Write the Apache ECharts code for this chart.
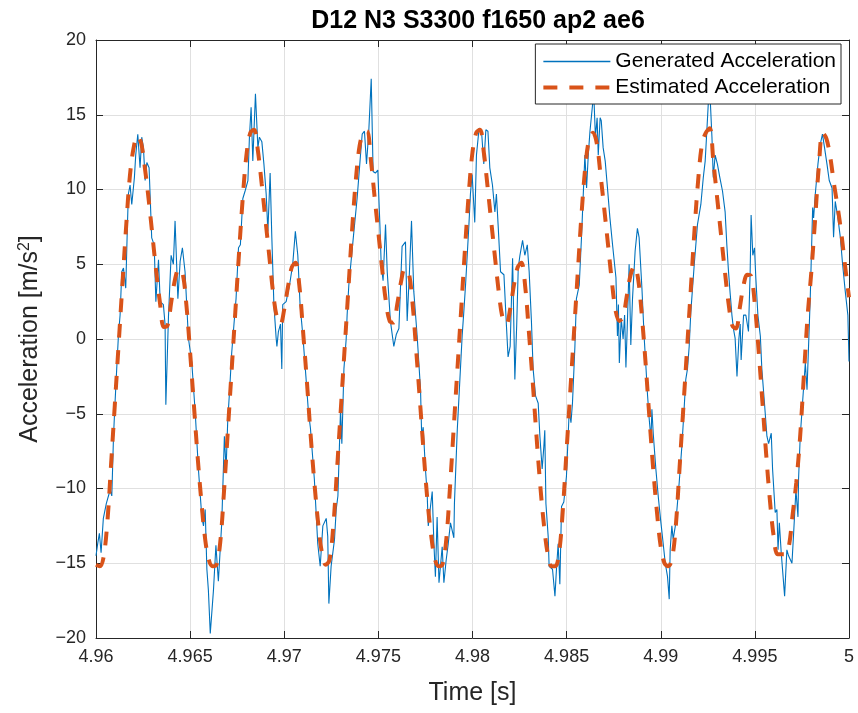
<!DOCTYPE html>
<html>
<head>
<meta charset="utf-8">
<script src="https://cdn.jsdelivr.net/npm/echarts@6/dist/echarts.min.js"></script>
<style>
html,body{margin:0;padding:0;background:#fff;}
#c{width:858px;height:713px;}
</style>
</head>
<body>
<div id="c"></div>
<script>
// ---- data ----
const titleText = 'D12 N3 S3300 f1650 ap2 ae6';
const seriesNames = ['Generated Acceleration', 'Estimated Acceleration'];
const startTime = 4.96;           // s
const xTicks = [4.96, 4.965, 4.97, 4.975, 4.98, 4.985, 4.99, 4.995, 5];
const yTicks = [-20, -15, -10, -5, 0, 5, 10, 15, 20];

// Generated acceleration: vertices (time offset in ms from 4.96 s, value m/s^2)
const genTimeMs = [
0.00,0.10,0.18,0.27,0.39,0.55,0.75,0.84,0.93,1.01,1.10,1.19,1.28,1.37,1.46,1.58,1.67,1.72,1.81,1.90,
2.04,2.11,2.22,2.34,2.43,2.52,2.61,2.70,2.82,2.96,3.09,3.18,3.32,3.41,3.58,3.67,3.71,3.85,3.99,4.11,
4.20,4.35,4.47,4.59,4.73,4.91,5.09,5.27,5.44,5.62,5.71,5.80,5.89,5.97,6.07,6.24,6.37,6.50,6.68,6.82,
6.91,7.00,7.09,7.21,7.33,7.44,7.57,7.67,7.80,7.92,8.07,8.15,8.24,8.33,8.47,8.60,8.68,8.81,8.92,9.04,
9.13,9.25,9.34,9.45,9.57,9.61,9.69,9.80,9.87,9.92,10.10,10.28,10.45,10.59,10.72,10.84,10.99,11.15,11.28,11.39,
11.60,11.78,11.91,12.05,12.23,12.31,12.37,12.49,12.67,12.76,12.85,12.99,13.06,13.17,13.29,13.34,13.43,13.70,13.87,14.05,
14.14,14.26,14.37,14.49,14.62,14.72,14.84,14.97,15.08,15.15,15.25,15.38,15.47,15.64,15.82,15.95,16.09,16.26,16.44,16.53,
16.65,16.76,16.88,17.06,17.24,17.30,17.38,17.50,17.59,17.65,17.73,17.86,17.95,18.03,18.12,18.22,18.39,18.48,18.60,18.71,
18.83,19.01,19.04,19.19,19.33,19.45,19.54,19.63,19.72,19.81,19.89,19.98,20.12,20.21,20.35,20.48,20.60,20.71,20.82,20.92,
21.06,21.19,21.27,21.36,21.49,21.67,21.80,21.89,22.00,22.13,22.25,22.35,22.43,22.52,22.66,22.78,22.91,23.01,23.13,23.22,
23.35,23.49,23.58,23.70,23.79,23.84,23.90,24.02,24.07,24.25,24.38,24.46,24.55,24.64,24.73,24.85,24.99,25.14,25.23,25.31,
25.44,25.52,25.67,25.79,25.97,26.06,26.15,26.24,26.38,26.45,26.53,26.62,26.68,26.78,26.84,26.94,27.05,27.17,27.30,27.44,
27.62,27.70,27.75,27.80,27.90,28.00,28.08,28.15,28.22,28.32,28.41,28.50,28.64,28.76,28.85,29.00,29.12,29.21,29.30,29.39,
29.48,29.53,29.60,29.74,29.88,30.01,30.13,30.24,30.36,30.45,30.50,30.59,30.66,30.80,30.98,31.12,31.24,31.33,31.42,31.51,
31.60,31.78,31.95,32.13,32.26,32.36,32.43,32.54,32.60,32.72,32.79,32.89,33.01,33.14,33.28,33.42,33.51,33.60,33.69,33.78,
33.86,33.95,34.05,34.15,34.22,34.27,34.40,34.52,34.66,34.75,34.80,34.89,34.98,35.05,35.16,35.29,35.37,35.51,35.64,35.73,
35.87,35.94,36.08,36.17,36.23,36.30,36.40,36.58,36.70,36.79,36.97,37.05,37.18,37.29,37.32,37.41,37.53,37.68,37.77,37.94,
38.07,38.12,38.21,38.35,38.47,38.59,38.70,38.83,38.95,39.10,39.18,39.27,39.41,39.54,39.66,39.80,39.94,40.00
];
const genValues = [
-14.5,-13.6,-13.0,-14.3,-12.0,-11.0,-10.1,-10.5,-6.5,-4.3,-2.0,0.2,1.6,4.5,4.75,3.4,7.65,9.7,10.3,9.0,
10.8,12.3,13.7,11.45,13.5,12.8,10.6,11.8,11.45,6.76,6.3,2.5,5.3,2.5,2.3,0.95,-4.4,1.5,5.6,5.0,
7.9,2.7,5.2,6.1,4.5,0.05,-1.6,-4.9,-8.7,-11.9,-12.5,-11.4,-15.4,-16.8,-19.7,-16.8,-13.8,-16.2,-12.3,-6.5,
-8.7,-5.4,-3.6,-0.9,1.0,2.7,6.1,6.3,9.4,9.9,10.6,13.5,15.5,11.9,16.4,12.8,13.5,13.2,11.7,9.7,
7.2,11.1,6.8,2.3,0.06,-0.5,0.5,1.0,-2.0,2.3,2.5,3.6,5.0,7.2,5.6,2.3,0.2,-2.5,-4.8,-5.95,
-9.4,-13.7,-15.2,-12.5,-12.0,-13.2,-17.7,-15.2,-13.4,-11.4,-10.5,-4.7,-7.0,-2.0,0.0,1.6,3.6,7.2,9.4,12.3,
13.7,13.9,11.7,13.9,17.4,11.2,11.1,11.3,7.65,5.0,3.9,7.65,4.5,1.2,-0.5,0.3,0.7,6.2,6.5,1.2,
4.5,7.9,3.2,0.2,-3.4,-6.5,-5.9,-8.7,-10.3,-12.5,-12.5,-10.2,-13.7,-15.9,-11.9,-16.3,-13.9,-16.3,-14.8,-13.7,
-12.3,-13.3,-11.0,-6.1,-2.7,0.2,1.85,3.6,5.6,7.65,9.7,11.0,7.8,12.3,14.1,13.9,11.7,14.0,13.9,11.45,
10.3,8.5,9.7,7.65,4.5,4.3,0.95,-1.2,-0.5,5.4,-2.7,1.0,4.75,5.6,6.6,5.6,6.3,4.5,1.2,-2.0,
-3.8,-4.3,-6.5,-8.7,-7.2,-6.1,-11.0,-13.2,-15.2,-15.4,-17.2,-15.4,-13.7,-16.4,-11.2,-10.9,-9.2,-4.7,-5.6,-4.3,
-0.5,2.7,3.6,6.8,12.3,10.1,12.3,13.9,15.7,16.1,13.5,14.8,12.3,14.8,14.6,12.8,11.9,10.1,8.1,6.3,
4.1,0.2,2.3,-1.6,1.4,0.0,1.6,-1.9,0.8,5.0,-0.4,2.7,5.9,7.4,6.8,3.4,0.1,-1.8,-3.8,-5.4,
-6.7,-4.7,-6.3,-8.7,-10.7,-12.3,-13.7,-15.0,-15.9,-17.4,-14.1,-12.5,-13.4,-12.3,-9.6,-7.2,-4.7,-2.7,-2.0,-0.5,
1.85,5.0,7.65,9.0,10.8,11.9,13.5,16.1,16.8,13.5,10.8,12.3,11.7,10.8,9.9,8.5,6.3,4.5,3.0,1.6,
0.7,0.06,-2.5,0.0,1.0,-1.4,1.6,1.6,0.5,4.5,8.3,5.6,6.1,4.1,1.6,0.2,-2.0,-4.3,-6.5,-7.0,
-6.3,-8.7,-11.6,-11.4,-14.1,-12.3,-14.3,-17.2,-14.1,-14.5,-15.0,-13.2,-10.1,-11.9,-9.4,-6.5,-4.3,-1.6,-3.4,2.7,
8.8,8.1,9.7,11.7,13.0,13.7,12.8,11.7,10.6,10.1,6.8,9.2,8.1,6.8,5.0,3.2,1.6,-1.5
];

// Estimated acceleration: values read every 0.2 ms from 4.96 s to 5.00 s
const estStepMs = 0.2;
const estValues = [
-15.1,-15.2,-14.6,-12.3,-8.4,-4.4,-0.4,3.6,7.5,10.9,
12.8,13.6,13.1,11.4,9.3,6.9,4.5,2.4,0.8,0.9,
2.5,4.0,4.7,4.4,2.3,-0.9,-4.4,-7.9,-10.9,-13.4,
-14.8,-15.2,
-15.1,-13.6,-10.2,-6.2,-2.2,1.8,5.8,9.5,12.4,13.8,
14.0,12.6,10.4,8.0,5.6,3.2,1.5,1.0,2.0,3.5,
4.8,5.1,3.6,0.5,-2.8,-6.4,-9.6,-12.3,-14.3,-15.1,
-14.8,-12.6,-8.8,-4.8,-0.8,3.2,7.2,10.6,12.9,13.8,
13.9,12.0,9.5,7.1,4.7,2.5,1.2,1.1,2.3,3.8,
4.7,4.5,2.6,-0.6,-4.0,-7.5,-10.7,-13.1,-14.7,-15.2,
-15.1,-13.5,-10.0,-6.0,-2.0,2.0,6.0,9.7,12.5,13.8,
14.0,12.5,10.2,7.8,5.4,3.1,1.4,1.0,2.0,3.6,
4.8,5.1,3.5,0.4,-2.9,-6.5,-9.8,-12.5,-14.4,-15.2,
-15.2,-14.3,-11.4,-7.4,-3.4,0.6,4.6,8.5,11.6,13.4,
13.8,13.1,11.0,8.7,6.3,3.9,1.9,1.2,1.5,2.9,
4.3,4.9,4.0,1.5,-1.7,-5.3,-8.7,-11.6,-13.9,-15.0,
-15.2,
-14.7,-12.5,-8.6,-4.6,-0.6,3.4,7.4,10.8,13.1,13.8,
14.1,11.8,9.4,7.0,4.6,2.4,0.9,0.7,2.1,3.6,
4.3,4.2,2.3,-0.8,-4.2,-7.7,-10.8,-13.2,-14.4,-14.4,
-14.4,-13.9,-11.8,-9.6,-6.6,-2.5,1.5,4.5,8.0,11.6,
13.8,13.4,12.2,10.4,8.8,7.0,4.8,2.8
];

// ---- build series data ----
const genData = genTimeMs.map((ms, i) => [startTime + ms / 1000, genValues[i]]);
const estData = estValues.map((v, i) => [startTime + i * estStepMs / 1000, v]);

const FONT = 'Liberation Sans, Arial, Helvetica, sans-serif';
const AX = '#262626';
const BLUE = '#0072BD';
const ORANGE = '#D95319';
const DASH = [14, 12];

function minusFmt(v) { return v < 0 ? '\u2212' + Math.abs(v) : String(v); }
function xFmt(v) {
  return v.toFixed(3).replace(/0+$/, '').replace(/\.$/, '');
}

const chart = echarts.init(document.getElementById('c'), null, { renderer: 'canvas' });
const axisCommon = {
  axisLine: { show: true, onZero: false, lineStyle: { color: AX, width: 1 } },
  axisTick: { show: true, inside: true, length: 7, lineStyle: { color: AX, width: 1 } },
};
chart.setOption({
  animation: false,
  backgroundColor: '#ffffff',
  title: {
    text: titleText, left: 473, top: 4, textAlign: 'center',
    textStyle: { fontFamily: FONT, fontWeight: 'bold', fontSize: 25, color: '#000' }
  },
  legend: {
    orient: 'vertical', right: 17, top: 44,
    backgroundColor: '#ffffff', borderColor: AX, borderWidth: 1, borderRadius: 0,
    padding: [7, 5, 6, 6], itemGap: 5, itemWidth: 67, itemHeight: 14,
    textStyle: { fontFamily: FONT, fontSize: 21, color: '#000' },
    itemStyle: { opacity: 0 },
    data: [
      { name: seriesNames[0], lineStyle: { color: BLUE, width: 1.3 } },
      { name: seriesNames[1], lineStyle: { color: ORANGE, width: 4, type: DASH } }
    ],
    z: 10
  },
  grid: { left: 96, right: 9, top: 40, bottom: 75, containLabel: false },
  xAxis: [
    Object.assign({
      type: 'value', min: 4.96, max: 5, interval: 0.005, position: 'bottom',
      name: 'Time [s]', nameLocation: 'middle', nameGap: 43,
      nameTextStyle: { fontFamily: FONT, fontSize: 25, color: AX },
      axisLabel: { formatter: xFmt, fontFamily: FONT, fontSize: 18, color: AX, margin: 10 },
      splitLine: { show: true, lineStyle: { color: '#e0e0e0', width: 1 } }
    }, axisCommon),
    Object.assign({
      type: 'value', min: 4.96, max: 5, interval: 0.005, position: 'top',
      axisLabel: { show: false }, splitLine: { show: false }
    }, axisCommon)
  ],
  yAxis: [
    Object.assign({
      type: 'value', min: -20, max: 20, interval: 5, position: 'left',
      name: 'Acceleration [m/s{sup|2}]', nameLocation: 'middle', nameGap: 53, nameRotate: 90,
      nameTextStyle: {
        fontFamily: FONT, fontSize: 25, color: AX,
        rich: { sup: { fontFamily: FONT, fontSize: 16, color: AX, verticalAlign: 'top', padding: [0, 0, 10, 0] } }
      },
      axisLabel: { formatter: minusFmt, fontFamily: FONT, fontSize: 18, color: AX, margin: 10 },
      splitLine: { show: true, lineStyle: { color: '#e0e0e0', width: 1 } }
    }, axisCommon),
    Object.assign({
      type: 'value', min: -20, max: 20, interval: 5, position: 'right',
      axisLabel: { show: false }, splitLine: { show: false }
    }, axisCommon)
  ],
  series: [
    {
      name: seriesNames[0], type: 'line', data: genData, xAxisIndex: 0, yAxisIndex: 0,
      showSymbol: false, symbol: 'none',
      lineStyle: { color: BLUE, width: 1.1 }, itemStyle: { color: BLUE }, z: 2
    },
    {
      name: seriesNames[1], type: 'line', data: estData, xAxisIndex: 0, yAxisIndex: 0,
      showSymbol: false, symbol: 'none', smooth: 0.35,
      lineStyle: { color: ORANGE, width: 4, type: DASH, cap: 'butt' }, itemStyle: { color: ORANGE }, z: 3
    }
  ]
});
</script>
</body>
</html>
